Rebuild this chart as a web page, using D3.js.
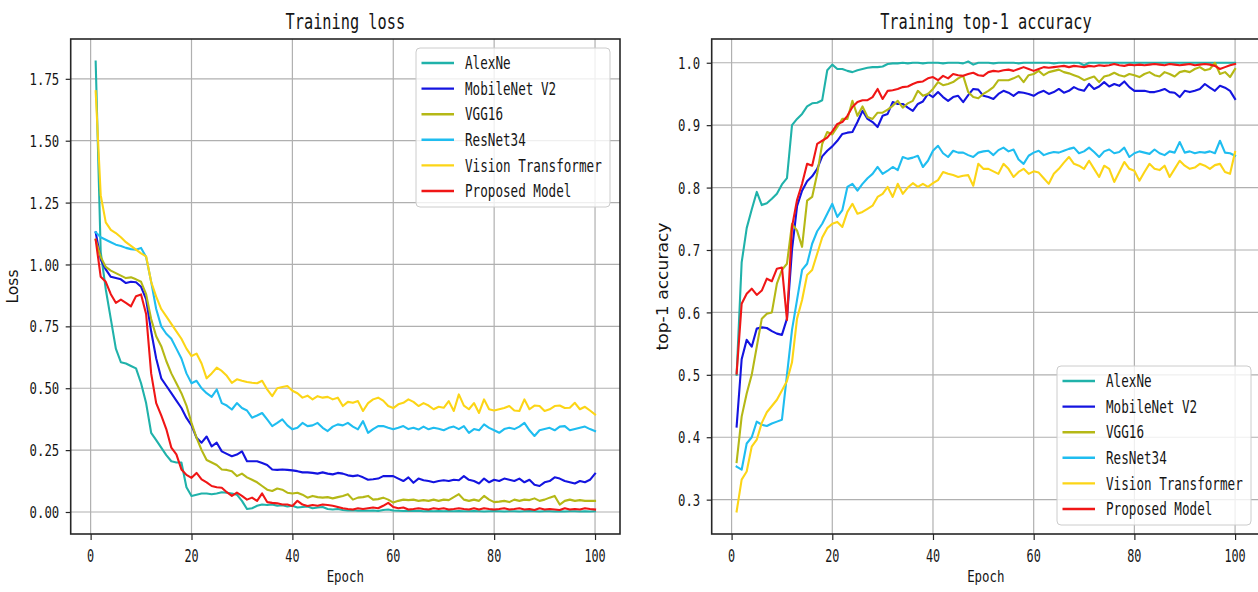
<!DOCTYPE html>
<html><head><meta charset="utf-8">
<script src="https://cdn.jsdelivr.net/npm/d3@7"></script>
<style>body{margin:0;background:#fff}svg{display:block}</style>
</head><body><svg id="c" width="1258" height="592"></svg>
<script>
const epochs = d3.range(1, 101);
const seriesNames = ["AlexNe", "MobileNet V2", "VGG16", "ResNet34", "Vision Transformer", "Proposed Model"];
const seriesColors = ["#20b2aa", "#1414e0", "#b5b816", "#1fbdf0", "#fcd516", "#f01616"];
const epochTicks = [0, 20, 40, 60, 80, 100];
const lossTicks = [0, 0.25, 0.5, 0.75, 1.0, 1.25, 1.5, 1.75];
const accTicks = [0.3, 0.4, 0.5, 0.6, 0.7, 0.8, 0.9, 1.0];

const lossAlexNe = [1.82,1.05,0.90,0.78,0.66,0.605,0.60,0.59,0.58,0.52, 0.44,0.32,0.29,0.26,0.23,0.205,0.20,0.20,0.10,0.065, 0.07,0.075,0.075,0.072,0.075,0.08,0.078,0.075,0.07,0.045, 0.012,0.015,0.025,0.03,0.028,0.03,0.025,0.027,0.022,0.025, 0.018,0.02,0.022,0.015,0.018,0.02,0.012,0.01,0.012,0.008, 0.006,0.007,0.005,0.006,0.005,0.006,0.004,0.008,0.01,0.006, 0.005,0.004,0.005,0.004,0.005,0.003,0.004,0.003,0.004,0.003, 0.004,0.003,0.004,0.003,0.003,0.004,0.003,0.002,0.003,0.004, 0.003,0.002,0.003,0.003,0.002,0.003,0.004,0.003,0.002,0.003, 0.003,0.002,0.003,0.002,0.003,0.003,0.002,0.003,0.002,0.003];
const lossMobileNet = [1.13,1.02,0.98,0.95,0.945,0.94,0.925,0.93,0.928,0.91, 0.86,0.73,0.62,0.54,0.51,0.48,0.45,0.42,0.38,0.35, 0.30,0.28,0.305,0.265,0.28,0.245,0.235,0.225,0.232,0.245, 0.205,0.205,0.205,0.198,0.19,0.172,0.17,0.172,0.17,0.168, 0.165,0.16,0.16,0.158,0.155,0.16,0.155,0.152,0.158,0.155, 0.148,0.145,0.148,0.14,0.13,0.132,0.135,0.145,0.145,0.145, 0.135,0.125,0.14,0.118,0.135,0.128,0.125,0.12,0.125,0.128, 0.125,0.13,0.128,0.145,0.13,0.125,0.115,0.135,0.12,0.13, 0.125,0.135,0.13,0.125,0.135,0.12,0.13,0.11,0.105,0.12, 0.125,0.14,0.135,0.125,0.12,0.115,0.125,0.12,0.13,0.155];
const lossVGG16 = [1.10,1.03,0.99,0.975,0.965,0.955,0.945,0.948,0.94,0.93, 0.88,0.78,0.71,0.67,0.61,0.56,0.52,0.48,0.43,0.36, 0.30,0.25,0.21,0.20,0.19,0.172,0.17,0.165,0.145,0.155, 0.14,0.13,0.12,0.105,0.09,0.085,0.095,0.09,0.078,0.075, 0.078,0.07,0.058,0.065,0.06,0.058,0.06,0.055,0.06,0.065, 0.072,0.05,0.058,0.06,0.065,0.05,0.052,0.058,0.05,0.038, 0.045,0.05,0.048,0.05,0.045,0.048,0.045,0.05,0.045,0.05, 0.048,0.06,0.072,0.05,0.045,0.05,0.045,0.065,0.05,0.04, 0.042,0.045,0.04,0.05,0.045,0.05,0.048,0.055,0.045,0.05, 0.058,0.065,0.03,0.045,0.05,0.045,0.048,0.045,0.045,0.045];
const lossResNet34 = [1.13,1.11,1.10,1.09,1.08,1.075,1.067,1.062,1.06,1.067, 1.03,0.93,0.82,0.75,0.72,0.70,0.66,0.62,0.56,0.52, 0.53,0.50,0.48,0.465,0.495,0.44,0.43,0.414,0.44,0.42, 0.41,0.381,0.39,0.40,0.374,0.347,0.36,0.374,0.35,0.334, 0.34,0.36,0.347,0.35,0.36,0.34,0.327,0.345,0.354,0.35, 0.36,0.345,0.334,0.367,0.32,0.335,0.347,0.347,0.34,0.334, 0.34,0.347,0.335,0.34,0.333,0.345,0.334,0.34,0.336,0.33, 0.34,0.345,0.335,0.347,0.32,0.335,0.33,0.354,0.34,0.33, 0.32,0.335,0.34,0.335,0.345,0.36,0.33,0.307,0.33,0.335, 0.34,0.33,0.345,0.347,0.33,0.335,0.34,0.345,0.335,0.327];
const lossViT = [1.70,1.28,1.17,1.14,1.127,1.11,1.09,1.075,1.06,1.045, 1.033,0.93,0.87,0.82,0.79,0.76,0.73,0.70,0.66,0.63, 0.64,0.60,0.54,0.56,0.583,0.57,0.55,0.522,0.536,0.53, 0.525,0.522,0.52,0.53,0.495,0.468,0.50,0.505,0.509,0.49, 0.48,0.462,0.47,0.455,0.468,0.462,0.465,0.455,0.462,0.428, 0.445,0.441,0.448,0.408,0.44,0.455,0.462,0.45,0.428,0.42, 0.435,0.441,0.455,0.445,0.428,0.44,0.43,0.415,0.425,0.421, 0.448,0.408,0.475,0.43,0.415,0.44,0.40,0.455,0.415,0.41, 0.415,0.42,0.428,0.41,0.408,0.455,0.415,0.43,0.428,0.408, 0.415,0.428,0.43,0.42,0.421,0.441,0.415,0.425,0.41,0.394];
const lossProposed = [1.10,0.95,0.93,0.88,0.845,0.858,0.845,0.831,0.872,0.879, 0.80,0.56,0.44,0.39,0.335,0.26,0.233,0.172,0.15,0.138, 0.158,0.132,0.12,0.105,0.10,0.098,0.08,0.065,0.078,0.065, 0.05,0.058,0.045,0.075,0.04,0.037,0.035,0.03,0.03,0.024, 0.045,0.03,0.024,0.028,0.025,0.03,0.028,0.025,0.02,0.015, 0.012,0.01,0.015,0.012,0.015,0.018,0.015,0.025,0.037,0.02, 0.015,0.018,0.01,0.012,0.015,0.012,0.01,0.015,0.012,0.015, 0.01,0.012,0.015,0.012,0.01,0.015,0.01,0.015,0.012,0.01, 0.012,0.015,0.01,0.012,0.015,0.01,0.012,0.008,0.015,0.01, 0.012,0.01,0.008,0.015,0.01,0.012,0.01,0.015,0.012,0.01];

const accAlexNe = [0.50,0.68,0.735,0.765,0.793,0.772,0.775,0.782,0.79,0.805, 0.815,0.90,0.91,0.918,0.93,0.935,0.936,0.94,0.988,0.997, 0.99,0.99,0.987,0.985,0.988,0.99,0.992,0.993,0.993,0.994, 0.998,0.999,0.999,1.0,0.999,1.0,1.0,0.999,1.0,1.0, 1.0,0.999,1.0,1.0,1.0,0.999,1.002,0.997,1.0,1.0, 1.0,0.999,1.0,1.0,1.0,1.0,0.999,1.0,1.0,1.0, 1.0,1.0,1.0,0.999,1.0,1.0,1.0,1.0,1.0,0.996, 1.0,1.0,1.0,1.0,1.0,1.0,1.0,1.0,1.0,1.0, 1.0,1.0,1.0,1.0,1.0,1.0,1.0,1.0,1.0,1.0, 1.0,1.0,1.0,1.0,1.0,1.0,1.0,1.0,1.0,1.0];
const accMobileNet = [0.417,0.525,0.556,0.545,0.574,0.576,0.575,0.57,0.566,0.564, 0.59,0.70,0.77,0.795,0.81,0.818,0.83,0.85,0.859,0.866, 0.875,0.886,0.888,0.889,0.905,0.923,0.91,0.905,0.897,0.915, 0.918,0.937,0.934,0.934,0.928,0.923,0.934,0.938,0.95,0.945, 0.953,0.945,0.939,0.945,0.947,0.937,0.948,0.958,0.957,0.947, 0.945,0.942,0.95,0.955,0.952,0.947,0.953,0.952,0.95,0.947, 0.952,0.955,0.95,0.953,0.958,0.952,0.955,0.961,0.957,0.955, 0.966,0.958,0.962,0.969,0.962,0.966,0.963,0.97,0.961,0.955, 0.955,0.955,0.953,0.953,0.955,0.958,0.953,0.952,0.945,0.955, 0.953,0.955,0.958,0.966,0.96,0.955,0.963,0.96,0.955,0.942];
const accVGG16 = [0.36,0.433,0.47,0.50,0.545,0.59,0.598,0.60,0.646,0.668, 0.678,0.742,0.731,0.705,0.779,0.785,0.822,0.87,0.889,0.885, 0.897,0.91,0.91,0.939,0.915,0.93,0.913,0.91,0.92,0.92, 0.925,0.931,0.939,0.928,0.935,0.939,0.955,0.947,0.95,0.958, 0.969,0.964,0.966,0.969,0.975,0.979,0.953,0.945,0.943,0.95, 0.955,0.961,0.972,0.972,0.972,0.975,0.979,0.969,0.98,0.982, 0.987,0.98,0.985,0.987,0.989,0.985,0.983,0.98,0.977,0.972, 0.975,0.978,0.969,0.978,0.98,0.984,0.98,0.978,0.982,0.98, 0.977,0.982,0.985,0.98,0.978,0.985,0.982,0.978,0.985,0.987, 0.985,0.99,0.993,0.988,0.99,1.0,0.982,0.985,0.977,0.99];
const accResNet34 = [0.353,0.348,0.39,0.40,0.425,0.42,0.418,0.422,0.425,0.428, 0.50,0.572,0.62,0.668,0.678,0.71,0.73,0.742,0.758,0.774, 0.753,0.764,0.801,0.806,0.795,0.806,0.815,0.822,0.833,0.822, 0.827,0.833,0.828,0.849,0.846,0.848,0.851,0.833,0.843,0.859, 0.867,0.855,0.849,0.859,0.856,0.856,0.852,0.849,0.856,0.858, 0.859,0.852,0.86,0.864,0.858,0.861,0.845,0.838,0.851,0.856, 0.859,0.852,0.855,0.857,0.856,0.859,0.862,0.864,0.855,0.858, 0.864,0.857,0.849,0.858,0.861,0.855,0.857,0.864,0.849,0.855, 0.858,0.856,0.854,0.861,0.855,0.852,0.858,0.856,0.873,0.856, 0.858,0.855,0.857,0.856,0.858,0.855,0.875,0.856,0.855,0.851];
const accViT = [0.281,0.332,0.345,0.385,0.396,0.423,0.44,0.45,0.46,0.475, 0.49,0.52,0.59,0.62,0.66,0.668,0.694,0.72,0.735,0.742, 0.745,0.737,0.761,0.774,0.758,0.761,0.766,0.771,0.785,0.79, 0.801,0.785,0.806,0.79,0.80,0.807,0.801,0.806,0.801,0.807, 0.812,0.825,0.822,0.82,0.817,0.819,0.82,0.803,0.838,0.83, 0.83,0.826,0.822,0.838,0.83,0.817,0.825,0.83,0.822,0.826, 0.824,0.815,0.806,0.822,0.83,0.84,0.849,0.838,0.835,0.83, 0.843,0.83,0.817,0.835,0.83,0.809,0.825,0.841,0.83,0.827, 0.811,0.825,0.838,0.83,0.828,0.835,0.817,0.83,0.843,0.835, 0.83,0.832,0.838,0.835,0.83,0.836,0.838,0.825,0.822,0.857];
const accProposed = [0.502,0.614,0.63,0.638,0.628,0.635,0.654,0.65,0.67,0.672, 0.588,0.737,0.78,0.806,0.838,0.835,0.87,0.875,0.88,0.89, 0.902,0.905,0.915,0.929,0.937,0.94,0.94,0.945,0.958,0.942, 0.955,0.956,0.958,0.961,0.962,0.966,0.969,0.97,0.975,0.977, 0.972,0.979,0.975,0.982,0.98,0.979,0.982,0.984,0.98,0.979, 0.985,0.987,0.986,0.988,0.989,0.987,0.99,0.993,0.99,0.987, 0.99,0.993,0.992,0.993,0.994,0.995,0.993,0.995,0.994,0.993, 0.995,0.994,0.996,0.995,0.996,0.998,0.996,0.995,0.997,0.996, 0.997,0.996,0.997,0.998,0.997,0.996,0.998,0.997,0.996,0.997, 0.998,0.996,0.997,0.998,0.997,0.995,0.99,0.993,0.996,0.998];

const lossSeries = [lossAlexNe, lossMobileNet, lossVGG16, lossResNet34, lossViT, lossProposed];
const accSeries = [accAlexNe, accMobileNet, accVGG16, accResNet34, accViT, accProposed];

const svg = d3.select("#c");
const MONO = "'DejaVu Sans Mono','Liberation Mono',monospace";
const SANS = "'DejaVu Sans','Liberation Sans',sans-serif";

// narrow, tall monospaced text: perChar = advance width, capH = cap height (px)
function monoText(parent, x, y, str, perChar, capH, anchor) {
  const fs = perChar / 0.602;
  const sy = capH / (0.729 * fs);
  return parent.append("text")
    .attr("transform", `translate(${x},${y}) scale(1,${sy})`)
    .attr("font-family", MONO).attr("font-size", fs.toFixed(2))
    .attr("text-anchor", anchor || "start").attr("fill", "#151515").text(str);
}

function panel(cfg) {
  const { left, top, right, bottom, series, yTicks, yFmt, title, ylabel, ylabelX, ylabelLen, legendX, legendY, id } = cfg;
  const all = series.flat();
  const lo = d3.min(all), hi = d3.max(all), r = hi - lo;
  const x = d3.scaleLinear().domain([1 - 0.05 * 99, 100 + 0.05 * 99]).range([left, right]);
  const y = d3.scaleLinear().domain([lo - 0.05 * r, hi + 0.05 * r]).range([bottom, top]);
  const g = svg.append("g");

  g.append("clipPath").attr("id", id).append("rect")
    .attr("x", left).attr("y", top).attr("width", right - left).attr("height", bottom - top);

  // grid
  const grid = g.append("g").attr("stroke", "#b0b0b0").attr("stroke-width", 1.2);
  grid.selectAll(".gx").data(epochTicks).join("line").attr("class", "gx")
    .attr("x1", d => x(d)).attr("x2", d => x(d)).attr("y1", top).attr("y2", bottom);
  grid.selectAll(".gy").data(yTicks).join("line").attr("class", "gy")
    .attr("y1", d => y(d)).attr("y2", d => y(d)).attr("x1", left).attr("x2", right);

  // lines
  const line = d3.line().x((d, i) => x(epochs[i])).y(d => y(d));
  g.append("g").attr("clip-path", `url(#${id})`)
    .selectAll("path").data(series).join("path")
    .attr("d", line).attr("fill", "none")
    .attr("stroke", (d, i) => seriesColors[i])
    .attr("stroke-width", 2.1).attr("stroke-linejoin", "round").attr("stroke-linecap", "square");

  // frame
  g.append("rect").attr("x", left).attr("y", top).attr("width", right - left).attr("height", bottom - top)
    .attr("fill", "none").attr("stroke", "#262626").attr("stroke-width", 1.6);

  // tick marks via d3 axes
  const ax = g.append("g").attr("transform", `translate(0,${bottom})`)
    .call(d3.axisBottom(x).tickValues(epochTicks).tickSize(6).tickFormat(""));
  const ay = g.append("g").attr("transform", `translate(${left},0)`)
    .call(d3.axisLeft(y).tickValues(yTicks).tickSize(5).tickFormat(""));
  [ax, ay].forEach(a => {
    a.select(".domain").remove();
    a.selectAll("line").attr("stroke", "#262626").attr("stroke-width", 1.2);
    a.selectAll("text").remove();
  });

  // tick labels
  const fx = d3.format("d"), fy = d3.format(yFmt);
  epochTicks.forEach(t => monoText(g, x(t), 562, fx(t), 7.1, 12.3, "middle"));
  yTicks.forEach(t => monoText(g, left - 11.5, y(t) + 6.1, fy(t), 7.4, 12.2, "end"));

  // title
  monoText(g, (left + right) / 2, 29, title, 9.2, 15, "middle");
  // xlabel
  monoText(g, (left + right) / 2, 582, "Epoch", 7.5, 12, "middle");
  // ylabel
  g.append("text").attr("transform", `translate(${ylabelX},${(top + bottom) / 2}) rotate(-90)`)
    .attr("text-anchor", "middle").attr("font-family", SANS).attr("font-size", 15.5).attr("fill", "#151515")
    .attr("textLength", ylabelLen).attr("lengthAdjust", "spacingAndGlyphs").text(ylabel);

  // legend
  const lg = g.append("g").attr("transform", `translate(${legendX},${legendY})`);
  lg.append("rect").attr("width", 194).attr("height", 159).attr("rx", 4)
    .attr("fill", "#fff").attr("fill-opacity", 0.8).attr("stroke", "#cccccc").attr("stroke-width", 1);
  seriesNames.forEach((name, i) => {
    const ry = 15 + i * 25.6;
    lg.append("line").attr("x1", 5.5).attr("x2", 38).attr("y1", ry).attr("y2", ry)
      .attr("stroke", seriesColors[i]).attr("stroke-width", 2.4);
    monoText(lg, 49, ry + 6.2, name, 7.6, 12.4, "start");
  });
}

panel({ left: 70.7, top: 39, right: 620, bottom: 534, series: lossSeries, yTicks: lossTicks, yFmt: ".2f",
  title: "Training loss", ylabel: "Loss", ylabelX: 18, ylabelLen: 34, legendX: 416, legendY: 48, id: "clipL" });
panel({ left: 711.7, top: 39, right: 1260, bottom: 534, series: accSeries, yTicks: accTicks, yFmt: ".1f",
  title: "Training top-1 accuracy", ylabel: "top-1 accuracy", ylabelX: 668, ylabelLen: 128, legendX: 1057, legendY: 366, id: "clipR" });
</script></body></html>
